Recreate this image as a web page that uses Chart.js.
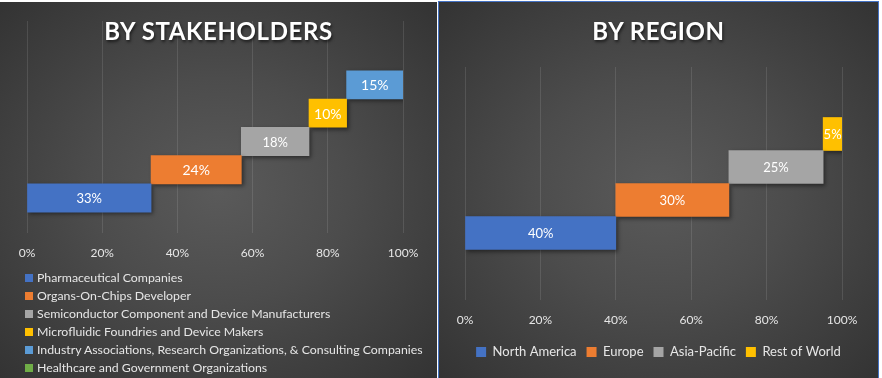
<!DOCTYPE html>
<html>
<head>
<meta charset="utf-8">
<script src="https://cdn.jsdelivr.net/npm/chart.js@4.4.0/dist/chart.umd.min.js"></script>
<style>
body { margin:0; background:#fff; width:882px; height:378px; overflow:hidden; font-family:Lato, sans-serif; }
.panel { position:absolute; overflow:hidden;
  background: radial-gradient(ellipse at center, #5a5a5a 0%, #4c4c4c 42%, #333 100%); }
#pl { left:0; top:2px; width:437px; height:376px; }
#pr { left:438px; top:1px; width:439px; height:378px; border:1px solid #4472C4; }
.ttl { position:absolute; left:0; right:0; top:14px; text-align:center; color:#fff;
  font:bold 24px Lato; letter-spacing:0.6px; text-shadow:1px 2px 3px rgba(0,0,0,.6); z-index:2; }
canvas { position:absolute; left:0; top:0; }
#lgl { position:absolute; left:25px; top:267px; font:12.3px Lato; color:#e6e6e6; }
#lgl div { height:18px; line-height:18px; white-space:nowrap; }
#lgl span { display:inline-block; width:8px; height:8px; margin-right:4px; }
</style>
</head>
<body>
<div class="panel" id="pl">
  <div class="ttl">BY STAKEHOLDERS</div>
  <canvas id="cl" width="437" height="376"></canvas>
  <div id="lgl"></div>
</div>
<div class="panel" id="pr">
  <div class="ttl">BY REGION</div>
  <canvas id="cr" width="439" height="376"></canvas>
</div>
<script>
// data
var stakeholders = ["Pharmaceutical Companies", "Organs-On-Chips Developer",
  "Semiconductor Component and Device Manufacturers", "Microfluidic Foundries and Device Makers",
  "Industry Associations, Research Organizations, & Consulting Companies",
  "Healthcare and Government Organizations"];
var stakeShares = [33, 24, 18, 10, 15, 0];

var regions = ["North America", "Europe", "Asia-Pacific", "Rest of World"];
var regionShares = [40, 30, 25, 5];

var xTicks = [0, 20, 40, 60, 80, 100];

var officeColors = ["#4472C4", "#ED7D31", "#A5A5A5", "#FFC000", "#5B9BD5", "#70AD47"];

// each segment starts where the previous one stopped, one row up
function stepSets(names, shares, sizes) {
	var run = 0;
	return names.map((n, i) => {
		var s = run;
		run += shares[i];
		return {
			label: n,
			data: shares[i] ? [{x: [s, run], y: i}] : [],
			backgroundColor: officeColors[i],
			grouped: false,
			barPercentage: 1,
			categoryPercentage: 1,
			labelSize: sizes ? sizes[i] : 13
		};
	});
}

var barShadow = {
	id: "barShadow",
	beforeDatasetsDraw(chart) {
		var c = chart.ctx;
		c.save();
		c.shadowColor = "rgba(0,0,0,0.45)";
		c.shadowBlur = 4;
		c.shadowOffsetX = 2;
		c.shadowOffsetY = 2;
	},
	afterDatasetsDraw(chart) { chart.ctx.restore(); }
};

var barText = {
	id: "barText",
	afterDatasetsDraw(chart) {
		var ctx = chart.ctx;
		ctx.save();
		ctx.fillStyle = "#fff";
		ctx.textAlign = "center";
		ctx.textBaseline = "middle";
		chart.data.datasets.forEach((ds, i) => {
			chart.getDatasetMeta(i).data.forEach((bar, j) => {
				var p = bar.getProps(["x", "base", "y"], true);
				var v = ds.data[j].x;
				ctx.font = ds.labelSize + "px Lato";
				ctx.fillText((v[1] - v[0]) + "%", (p.x + p.base) / 2, p.y + 1);
			});
		});
		ctx.restore();
	}
};

// invisible side axis, only holds the plot in from the edge
function spacer(pos, w) {
	return {
		type: "linear", position: pos, display: true,
		ticks: {display: false}, grid: {display: false}, border: {display: false},
		afterFit: s => { s.width = w; }
	};
}

// g: [top, bottom, left gap, right gap, x-axis trim]
function makeOpts(g, yMin, yMax, legend) {
	var y = spacer("left", g[2]);
	y.min = yMin;
	y.max = yMax;
	y.offset = false;
	y.ticks.stepSize = 1;
	y.ticks.includeBounds = false;
	return {
		responsive: false,
		animation: false,
		indexAxis: "y",
		layout: {padding: {top: g[0], bottom: g[1], left: 0, right: 0}},
		scales: {
			x: {
				min: 0, max: 100,
				afterBuildTicks: s => { s.ticks = xTicks.map(v => ({value: v})); },
				afterFit: s => { s.height -= g[4]; },
				ticks: {color: "#e6e6e6", font: {family: "Lato", size: 12}, padding: 13, callback: v => v + "%"},
				grid: {color: "rgba(255,255,255,0.11)", drawTicks: false},
				border: {display: false}
			},
			y: y,
			y2: spacer("right", g[3])
		},
		plugins: {legend: legend, tooltip: {enabled: false}}
	};
}

new Chart(document.getElementById("cl"), {
	type: "bar",
	data: {datasets: stepSets(stakeholders, stakeShares, [13, 14, 13, 14, 14, 13])},
	options: makeOpts([19, 104.6, 27, 34, 0], -1.24, 6.26, {display: false}),
	plugins: [barShadow, barText]
});

// left legend is a plain list
var lg = document.getElementById("lgl");
stakeholders.forEach((n, i) => {
	lg.insertAdjacentHTML("beforeend", `<div><span style="background:${officeColors[i]}"></span>${n}</div>`);
});

new Chart(document.getElementById("cr"), {
	type: "bar",
	data: {datasets: stepSets(regions, regionShares)},
	options: makeOpts([65, 9.6, 26, 36, 5], -2.03, 5.03, {
		display: true, position: "bottom",
		labels: {color: "#e6e6e6", font: {family: "Lato", size: 13}, boxWidth: 10, boxHeight: 10, padding: 10}
	}),
	plugins: [barShadow, barText]
});
</script>
</body>
</html>
